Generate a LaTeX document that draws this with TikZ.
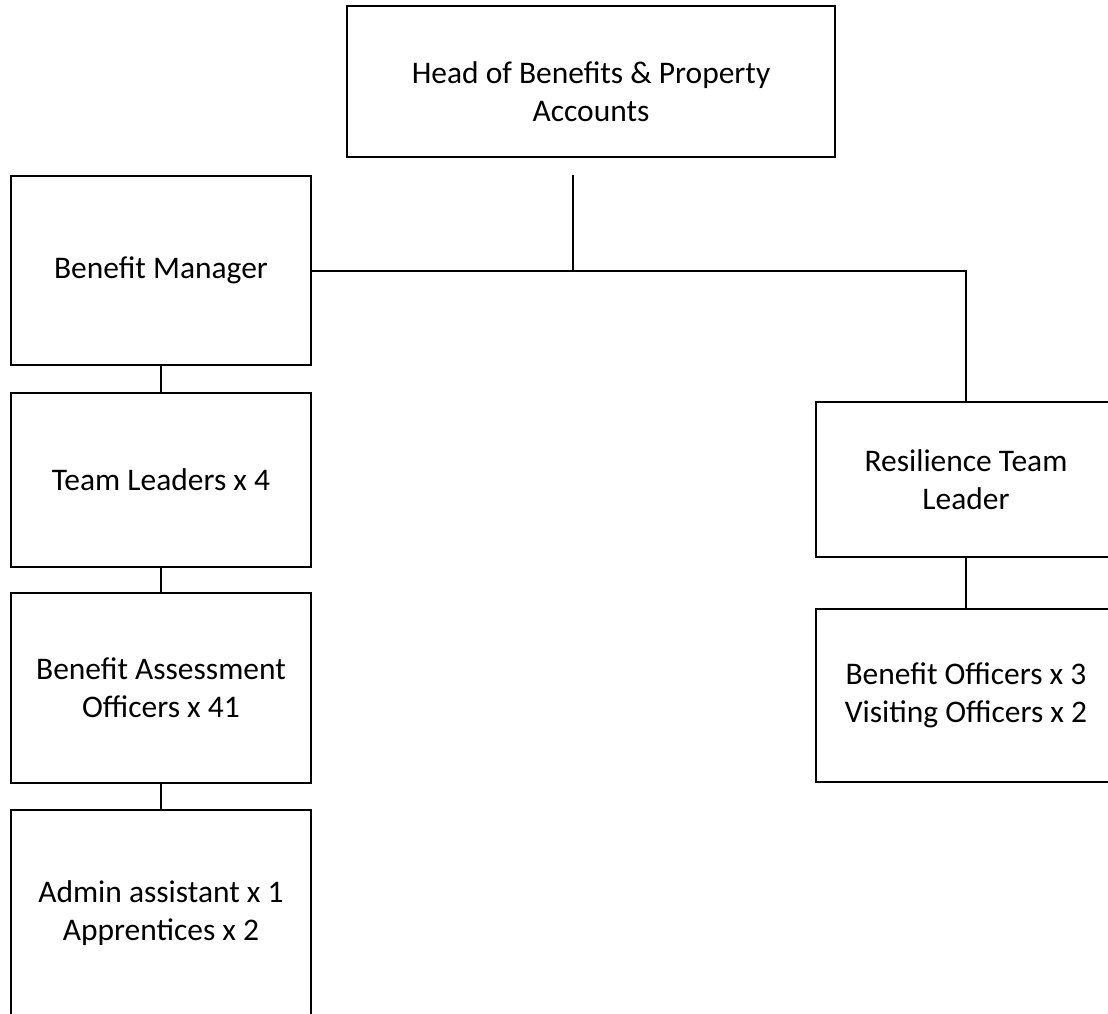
\documentclass[tikz,border=0pt]{standalone}
\usepackage{fontspec}
\setmainfont{Carlito}
\usepackage{tikz}

\begin{document}
\begin{tikzpicture}[x=0.75pt,y=-0.75pt,
  boxtext/.style={align=center,font=\fontsize{23.6}{28.5}\selectfont},
  post/.style={draw,line width=1.5pt,boxtext,minimum width=225pt,inner sep=2pt},
  link/.style={line width=1.5pt}]
  \useasboundingbox (0,0) rectangle (1108,1014);
  \clip (0,0) rectangle (1108,1014);
  \node[post,minimum width=366pt,minimum height=113.25pt,
    label={[boxtext,yshift=-7.5pt]center:Head of Benefits \& Property\\Accounts}] (head) at (591,81.5) {};
  \node[post,minimum height=141.75pt] (bm) at (161,270.5) {Benefit Manager};
  \node[post,minimum height=130.5pt] (tl) at (161,479.5) {Team Leaders x 4};
  \node[post,minimum height=142.5pt] (bao) at (161,688) {Benefit Assessment\\Officers x 41};
  \node[post,minimum height=154.5pt] (admin) at (161,913) {Admin assistant x 1\\Apprentices x 2};
  \node[post,minimum height=116.25pt] (rtl) at (966,479.5) {Resilience Team\\Leader};
  \node[post,minimum height=129.75pt] (bo) at (966,695.5) {Benefit Officers x 3\\Visiting Officers x 2};
  \coordinate (split) at (573,175);
  \draw[link] (split) -- (split |- bm.east);
  \draw[link] (bm.east) -| (rtl.north);
  \draw[link] (bm) -- (tl);
  \draw[link] (tl) -- (bao);
  \draw[link] (bao) -- (admin);
  \draw[link] (rtl) -- (bo);
\end{tikzpicture}
\end{document}
